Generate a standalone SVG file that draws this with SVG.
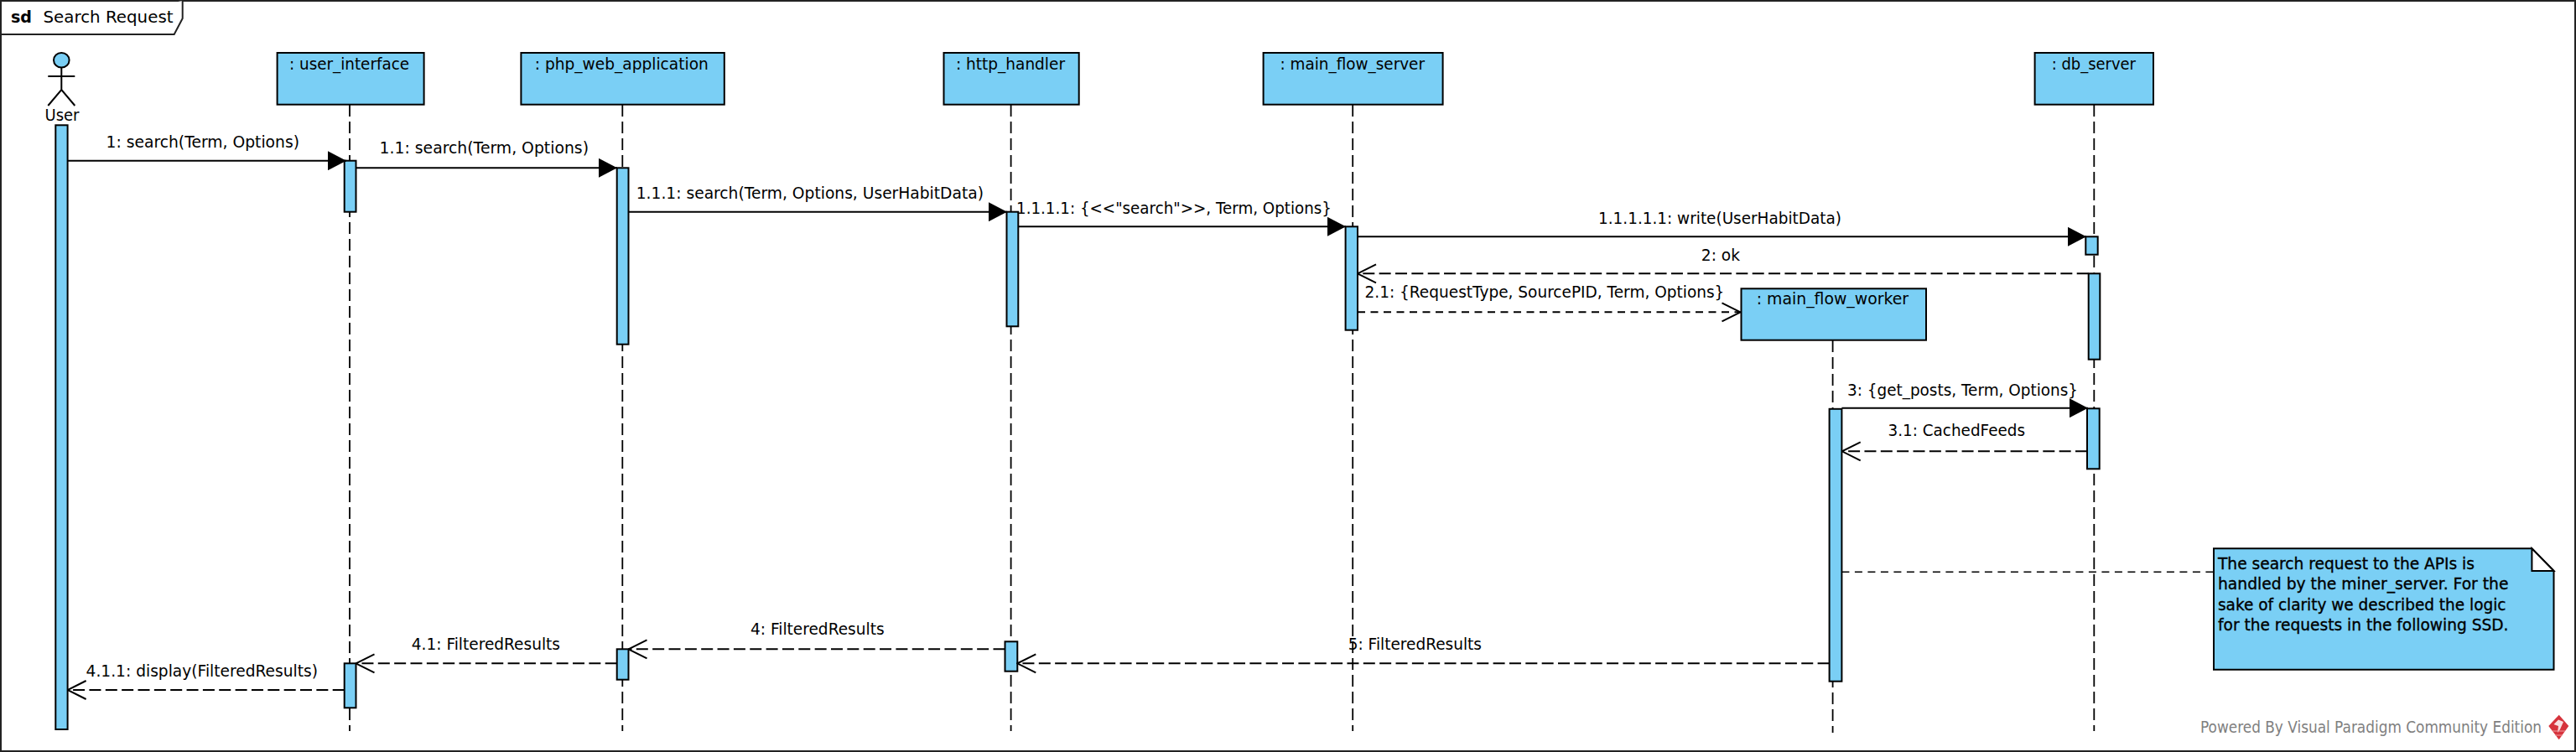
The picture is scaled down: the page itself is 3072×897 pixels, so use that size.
<svg xmlns="http://www.w3.org/2000/svg" width="3072" height="897" viewBox="0 0 3072 897">
<style>
text{font-family:"DejaVu Sans",sans-serif;font-size:19px;fill:#000}
.n{fill:#7acff5;stroke:#000;stroke-width:2}
.ll{stroke:#000;stroke-width:1.8;stroke-dasharray:14 6;fill:none}
.m{stroke:#000;stroke-width:2;fill:none}
.r{stroke-dasharray:14 5.35}
.c{stroke-dasharray:9 6.5}
.l{stroke:#000;stroke-width:1.6;stroke-dasharray:9 6.5;fill:none}
.t{stroke:#000;stroke-width:.35}
</style>
<defs>
<marker id="solid" markerUnits="userSpaceOnUse" viewBox="0 0 22 23" refX="22" refY="11.5" markerWidth="22" markerHeight="23" orient="auto"><path d="M0 0L22 11.5L0 23Z" fill="#000"/></marker>
<marker id="open" markerUnits="userSpaceOnUse" viewBox="-1 -2 24 26" refX="22" refY="11" markerWidth="24" markerHeight="26" orient="auto"><path d="M0 0L22 11L0 22" fill="none" stroke="#000" stroke-width="2"/></marker>
</defs>
<rect width="3072" height="897" fill="#fff"/>
<g id="frame">
<rect x="1" y="1" width="3070" height="895" fill="none" stroke="#222" stroke-width="2"/>
<path d="M1 41H207.7L217.7 22V1" fill="#fff" stroke="#222" stroke-width="2"/>
<text x="13" y="27" font-weight="700" textLength="25" lengthAdjust="spacingAndGlyphs">sd</text>
<text x="51.5" y="27" textLength="155" lengthAdjust="spacingAndGlyphs">Search Request</text>
</g>
<g id="user">
<ellipse class="n" cx="73.3" cy="71.7" rx="9.3" ry="8.8"/>
<path class="m" d="M73.3 80.5V107M57.3 91H89.3M57.3 126L73.3 107L89.3 126"/>
<text x="53.5" y="144" textLength="41" lengthAdjust="spacingAndGlyphs">User</text>
<rect class="n" x="66.3" y="149.3" width="14.3" height="720.7"/>
</g>
<g id="user_interface">
<path class="ll" d="M417 125V872"/>
<rect class="n" x="330.6" y="63" width="175" height="61.7"/>
<text x="345" y="83" textLength="143" lengthAdjust="spacingAndGlyphs">: user_interface</text>
<rect class="n" x="410.7" y="191.7" width="13.8" height="61"/>
<rect class="n" x="410.7" y="791.3" width="13.8" height="53"/>
</g>
<g id="php_web_application">
<path class="ll" d="M742.3 125V872"/>
<rect class="n" x="621.4" y="63" width="242.4" height="61.7"/>
<text x="637.8" y="83" textLength="207" lengthAdjust="spacingAndGlyphs">: php_web_application</text>
<rect class="n" x="735.7" y="200.3" width="13.8" height="210.4"/>
<rect class="n" x="735.7" y="774.3" width="13.8" height="36.4"/>
</g>
<g id="http_handler">
<path class="ll" d="M1205.6 125V872"/>
<rect class="n" x="1125.5" y="63" width="161.2" height="61.7"/>
<text x="1140" y="83" textLength="130" lengthAdjust="spacingAndGlyphs">: http_handler</text>
<rect class="n" x="1200.5" y="252.7" width="13.8" height="136.6"/>
<rect class="n" x="1198.5" y="765.3" width="14.8" height="35.4"/>
</g>
<g id="main_flow_server">
<path class="ll" d="M1613.2 125V872"/>
<rect class="n" x="1506.6" y="63" width="214" height="61.7"/>
<text x="1526.5" y="83" textLength="172.5" lengthAdjust="spacingAndGlyphs">: main_flow_server</text>
<rect class="n" x="1604.6" y="270.3" width="14.4" height="123.4"/>
</g>
<g id="db_server">
<path class="ll" d="M2497.3 125V872"/>
<rect class="n" x="2426.6" y="63" width="141.4" height="61.7"/>
<text x="2446.7" y="83" textLength="100.3" lengthAdjust="spacingAndGlyphs">: db_server</text>
<rect class="n" x="2487.3" y="282.3" width="14.4" height="21.4"/>
<rect class="n" x="2490.7" y="326.3" width="13.6" height="102.4"/>
<rect class="n" x="2489" y="487.3" width="14.7" height="72"/>
</g>
<g id="main_flow_worker">
<path class="ll" d="M2185.6 406V874"/>
<rect class="n" x="2076.5" y="344.3" width="220.5" height="61.4"/>
<text x="2094.8" y="363" textLength="181.2" lengthAdjust="spacingAndGlyphs">: main_flow_worker</text>
<rect class="n" x="2181.6" y="487.8" width="14.8" height="324.9"/>
</g>
<g id="note">
<path class="n" d="M2640 654.3H3019.4L3045.5 681V798.7H2640Z"/>
<path d="M3019.4 654.3V681H3045.5Z" fill="#fff" stroke="#000" stroke-width="2"/>
<text class="t" x="2645" y="678.7" textLength="306" lengthAdjust="spacingAndGlyphs">The search request to the APIs is</text>
<text class="t" x="2645" y="703.3" textLength="346.5" lengthAdjust="spacingAndGlyphs">handled by the miner_server. For the</text>
<text class="t" x="2645" y="727.7" textLength="343.5" lengthAdjust="spacingAndGlyphs">sake of clarity we described the logic</text>
<text class="t" x="2645" y="751.7" textLength="346.5" lengthAdjust="spacingAndGlyphs">for the requests in the following SSD.</text>
</g>
<g id="connectors">
<path class="m" marker-end="url(#solid)" d="M80.6 191.7H413"/>
<path class="m" marker-end="url(#solid)" d="M424.5 200.3H736"/>
<path class="m" marker-end="url(#solid)" d="M749.5 252.7H1201"/>
<path class="m" marker-end="url(#solid)" d="M1214.3 270.3H1605"/>
<path class="m" marker-end="url(#solid)" d="M1619 282.3H2488"/>
<path class="m r" marker-end="url(#open)" d="M2490.7 326.3H1619"/>
<path class="m c" marker-end="url(#open)" d="M1619 372.3H2075.5"/>
<path class="m" marker-end="url(#solid)" d="M2196.4 486.7H2490"/>
<path class="m r" marker-end="url(#open)" d="M2489 538.3H2196.7"/>
<path class="l" d="M2196.4 682.2H2640"/>
<path class="m r" marker-end="url(#open)" d="M2181.6 791.3H1213.3"/>
<path class="m r" marker-end="url(#open)" d="M1198.5 774.3H749.5"/>
<path class="m r" marker-end="url(#open)" d="M735.7 791.3H424.5"/>
<path class="m r" marker-end="url(#open)" d="M410.7 823H80.6"/>
</g>
<g id="labels">
<text x="126.5" y="175.7" textLength="230.5" lengthAdjust="spacingAndGlyphs">1: search(Term, Options)</text>
<text x="452.6" y="183.3" textLength="249.4" lengthAdjust="spacingAndGlyphs">1.1: search(Term, Options)</text>
<text x="758.7" y="236.7" textLength="414.3" lengthAdjust="spacingAndGlyphs">1.1.1: search(Term, Options, UserHabitData)</text>
<text x="1212" y="255" textLength="376" lengthAdjust="spacingAndGlyphs">1.1.1.1: {&lt;&lt;"search"&gt;&gt;, Term, Options}</text>
<text x="1906" y="266.7" textLength="290" lengthAdjust="spacingAndGlyphs">1.1.1.1.1: write(UserHabitData)</text>
<text x="2028.8" y="311" textLength="46.2" lengthAdjust="spacingAndGlyphs">2: ok</text>
<text x="1627.5" y="355" textLength="428.9" lengthAdjust="spacingAndGlyphs">2.1: {RequestType, SourcePID, Term, Options}</text>
<text x="2203" y="471.7" textLength="275" lengthAdjust="spacingAndGlyphs">3: {get_posts, Term, Options}</text>
<text x="2251.5" y="520" textLength="163.5" lengthAdjust="spacingAndGlyphs">3.1: CachedFeeds</text>
<text x="1607.7" y="775" textLength="159.3" lengthAdjust="spacingAndGlyphs">5: FilteredResults</text>
<text x="895" y="757.3" textLength="159.6" lengthAdjust="spacingAndGlyphs">4: FilteredResults</text>
<text x="490.8" y="775" textLength="177.2" lengthAdjust="spacingAndGlyphs">4.1: FilteredResults</text>
<text x="102.6" y="806.7" textLength="276.4" lengthAdjust="spacingAndGlyphs">4.1.1: display(FilteredResults)</text>
</g>
<g id="watermark">
<text x="2624" y="874" style="fill:#808080" textLength="407" lengthAdjust="spacingAndGlyphs">Powered By Visual Paradigm Community Edition</text>
<path d="M3051.7 852.7L3063.3 866L3051.7 882.3L3039.3 866Z" fill="#d6333c"/>
<path d="M3045.5 864L3051 858.5L3057 861L3053 870L3050 874L3051 866Z" fill="#fff" opacity=".85"/>
<path d="M3044 872H3059M3047 877H3056" stroke="#f0a0a4" stroke-width="1"/>
</g>
</svg>
